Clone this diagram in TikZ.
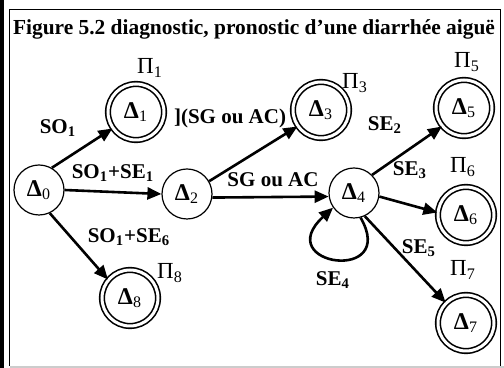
\documentclass[tikz,border=0pt]{standalone}
\usepackage{fontspec}
\setmainfont{Liberation Serif}
\usepackage{tikz}
\usetikzlibrary{arrows.meta}

\begin{document}
\begin{tikzpicture}[x=0.5pt,y=-0.5pt,
  state/.style={circle,draw,line width=0.6pt,minimum size=25pt,inner sep=0pt,font=\fontsize{12}{12}\selectfont},
  final/.style={circle,draw,line width=0.8pt,double,double distance=1.5pt,minimum size=28pt,inner sep=0pt,font=\fontsize{12}{12}\selectfont},
  arr/.style={-{Triangle[length=7pt,width=6pt]},line width=1.3pt},
  lbl/.style={font=\bfseries\fontsize{10.5}{11}\selectfont},
  pi/.style={font=\fontsize{11.5}{12}\selectfont}]
  \useasboundingbox (0,0) rectangle (504,368);
  % frame
  \fill (0,0) rectangle (4,368);
  \draw[line width=0.5pt] (9.5,366) -- (9.5,9.5) -- (500,9.5) -- (500,366);
  \draw[line width=1pt,gray!40] (9.5,367) -- (504,367);
  \node[font=\bfseries\fontsize{10.7}{12}\selectfont] (title) at (254,29) {Figure 5.2 diagnostic, pronostic d’une diarrhée aiguë};
  % states
  \node[state] (d0) at (39,190) {\textbf{Δ}\textsubscript{0}};
  \node[final] (d1) at (136,112) {\textbf{Δ}\textsubscript{1}};
  \node[state] (d2) at (187,194) {\textbf{Δ}\textsubscript{2}};
  \node[final] (d3) at (321,110) {\textbf{Δ}\textsubscript{3}};
  \node[state] (d4) at (354,193) {\textbf{Δ}\textsubscript{4}};
  \node[final] (d5) at (464,108) {\textbf{Δ}\textsubscript{5}};
  \node[final] (d6) at (466,215) {\textbf{Δ}\textsubscript{6}};
  \node[final] (d7) at (466,323) {\textbf{Δ}\textsubscript{7}};
  \node[final] (d8) at (130,298) {\textbf{Δ}\textsubscript{8}};
  % Pi
  \node[pi] (p1) at (150,68) {Π\textsubscript{1}};
  \node[pi] (p3) at (355,83) {Π\textsubscript{3}};
  \node[pi] (p5) at (467,62) {Π\textsubscript{5}};
  \node[pi] (p6) at (463,167) {Π\textsubscript{6}};
  \node[pi] (p7) at (463,270) {Π\textsubscript{7}};
  \node[pi] (p8) at (170,273) {Π\textsubscript{8}};
  % transitions
  \draw[arr] (d0.60) -- (d1.215);
  \draw[arr] (d0.east) -- (d2.west);
  \draw[arr] (d0.-65) -- (d8.140);
  \draw[arr] (d2.30) -- (d3.215);
  \draw[arr] (d2.-8) -- (d4.-172);
  \draw[arr] (d4.45) -- (d5.220);
  \draw[arr] (d4.-8) -- (d6.175);
  \draw[arr] (d4.-65) -- (d7.135);
  \draw[arr] (d4.-75) .. controls +(38,66) and +(-63,58) .. (d4.215);
  % labels
  \node[lbl] (so1) at (58,128) {SO\textsubscript{1}};
  \node[lbl] (so1se1) at (113,173) {SO\textsubscript{1}+SE\textsubscript{1}};
  \node[lbl] (so1se6) at (129,237) {SO\textsubscript{1}+SE\textsubscript{6}};
  \node[lbl,anchor=west] (sgac1) at (167,118) {](SG ou AC)};
  \node[lbl] (sgac2) at (273,180) {SG ou AC};
  \node[lbl] (se2) at (385,125) {SE\textsubscript{2}};
  \node[lbl] (se3) at (410,170) {SE\textsubscript{3}};
  \node[lbl] (se4) at (333,280) {SE\textsubscript{4}};
  \node[lbl] (se5) at (419,248) {SE\textsubscript{5}};
\end{tikzpicture}
\end{document}
